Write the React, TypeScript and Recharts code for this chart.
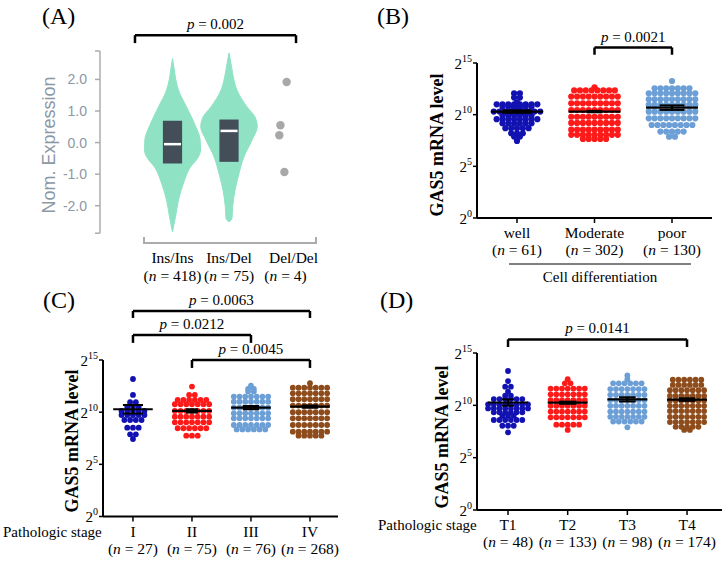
import React from 'react';
import {
  ComposedChart,
  ScatterChart,
  Scatter,
  Area,
  XAxis,
  YAxis,
  ReferenceLine,
  ReferenceArea,
  ReferenceDot,
} from 'recharts';

const SERIF = '"Liberation Serif", "Times New Roman", serif';
const SANS = '"Liberation Sans", Arial, sans-serif';
const W = 723;
const H = 561;

const GROUP_COLORS = ['#1212b2', '#ff1a1a', '#6c9fd6', '#8e4c1c'];
const AXIS_GREY = '#acacac';

// ---------- (A) violin plot, Nom. Expression ----------
const A_CATS = ['Ins/Ins', 'Ins/Del', 'Del/Del'];
const A_N = [418, 75, 4];
// [expression, half width of the violin in category units]
const A_VIOLIN_INS_INS: [number, number][] = [
  [-2.83, 0], [-2.35, 0.053], [-1.82, 0.106], [-1.28, 0.195], [-0.77, 0.319], [-0.5, 0.442],
  [-0.24, 0.496], [0.08, 0.49], [0.6, 0.389], [1.13, 0.248], [1.66, 0.106], [2.0, 0.057],
  [2.3, 0.032], [2.66, 0],
];
const A_VIOLIN_INS_DEL: [number, number][] = [
  [-2.51, 0], [-2.4, 0.053], [-2.03, 0.065], [-1.51, 0.106], [-0.98, 0.177], [-0.45, 0.265],
  [0.08, 0.407], [0.5, 0.5], [0.81, 0.46], [1.13, 0.319], [1.66, 0.142], [2.19, 0.065],
  [2.5, 0.035], [2.84, 0],
];
const A_Q1 = [-0.66, -0.61];
const A_Q3 = [0.69, 0.73];
const A_MEDIAN = [-0.05, 0.37];
const A_DELDEL_X = [2.02, 1.91, 1.89, 1.98];
const A_DELDEL_Y = [1.92, 0.55, 0.23, -0.93];

// ---------- (B) cell differentiation ----------
const B_CATS = ['well', 'Moderate', 'poor'];
const B_N = [61, 302, 130];
// rows of the dot swarm: [log2 level, number of dots]
const B_ROWS: [number, number][][] = [
  [[12.07, 2], [11.65, 2], [11.2, 1], [11.0, 8], [10.78, 6], [10.55, 2], [10.3, 9], [9.95, 6],
    [9.56, 8], [9.17, 6], [8.69, 5], [8.2, 3], [7.88, 2], [7.46, 1]],
  [[12.65, 1], [12.35, 8], [11.75, 9], [11.1, 9], [10.45, 9], [9.8, 9], [9.2, 9], [8.55, 9],
    [8.05, 9], [7.65, 5]],
  [[13.26, 1], [12.55, 7], [12.07, 9], [11.49, 9], [10.94, 9], [10.29, 9], [9.65, 9], [9.0, 8],
    [8.36, 5], [7.87, 2]],
];
const B_MEAN = [10.3, 10.3, 10.68];
const B_SEM = [0.12, 0.07, 0.22];
const B_CAP = [0.19, 0.1, 0.16];

// ---------- (C) pathologic stage ----------
const C_CATS = ['I', 'II', 'III', 'IV'];
const C_N = [27, 75, 76, 268];
const C_ROWS: [number, number][][] = [
  [[13.18, 1], [11.65, 1], [10.95, 2], [10.53, 3], [10.12, 5], [9.73, 5], [9.25, 4], [8.51, 3],
    [7.88, 2], [7.43, 1]],
  [[12.45, 1], [11.65, 2], [11.17, 6], [10.76, 7], [10.12, 7], [9.57, 7], [9.03, 7], [8.46, 6],
    [7.75, 3]],
  [[12.54, 1], [12.22, 2], [11.97, 2], [11.49, 7], [11.01, 7], [10.43, 7], [9.89, 7], [9.41, 7],
    [8.77, 7], [8.35, 6]],
  [[12.77, 1], [12.35, 7], [11.81, 7], [11.24, 7], [10.63, 7], [9.99, 7], [9.41, 7], [8.77, 7],
    [8.13, 7], [7.75, 5]],
];
const C_MEAN = [10.28, 10.12, 10.43, 10.53];
const C_SEM = [0.4, 0.15, 0.15, 0.1];
const C_CAP = [0.17, 0.1, 0.14, 0.14];

// ---------- (D) T stage ----------
const D_CATS = ['T1', 'T2', 'T3', 'T4'];
const D_N = [48, 133, 98, 174];
const D_ROWS: [number, number][][] = [
  [[13.28, 1], [12.32, 1], [11.78, 2], [11.3, 1], [10.92, 2], [10.6, 6], [10.1, 8], [9.7, 8],
    [9.33, 6], [9.0, 3], [8.6, 6], [8.05, 3], [7.42, 1]],
  [[12.5, 1], [12.1, 2], [11.6, 7], [11.05, 7], [10.5, 7], [9.95, 7], [9.4, 7], [8.85, 7],
    [8.15, 5], [7.65, 1]],
  [[12.85, 1], [12.5, 1], [12.1, 6], [11.55, 7], [11.0, 7], [10.5, 7], [9.95, 7], [9.4, 7],
    [8.9, 7], [8.45, 6], [7.9, 1]],
  [[12.45, 6], [11.95, 6], [11.45, 7], [10.9, 7], [10.45, 7], [9.95, 7], [9.45, 7], [8.9, 7],
    [8.4, 7], [7.95, 5], [7.65, 2]],
];
const D_MEAN = [10.27, 10.25, 10.57, 10.55];
const D_SEM = [0.3, 0.1, 0.2, 0.12];
const D_CAP = [0.1, 0.15, 0.14, 0.14];

type Bracket = { from: number; to: number; level: number; drop: number; p: string };

const A_BRACKETS: Bracket[] = [{ from: -0.664, to: 2.186, level: 3.4, drop: 0.25, p: '0.002' }];
const B_BRACKETS: Bracket[] = [{ from: 1, to: 2, level: 16.5, drop: 0.7, p: '0.0021' }];
const C_BRACKETS: Bracket[] = [
  { from: 0, to: 3, level: 19.7, drop: 0.67, p: '0.0063' },
  { from: 0, to: 2, level: 17.4, drop: 0.76, p: '0.0212' },
  { from: 1, to: 3, level: 15.0, drop: 0.76, p: '0.0045' },
];
const D_BRACKETS: Bracket[] = [{ from: 0, to: 3, level: 16.3, drop: 0.73, p: '0.0141' }];

// lay a row of dots side by side around the category centre
const swarm = (rows: [number, number][], cat: number, step: number) =>
  rows.flatMap(([v, k]) =>
    Array.from({ length: k }, (_, j) => ({ x: cat + (j - (k - 1) / 2) * step, y: v })),
  );

const pLabel = (text: string) => (props: any) => {
  const vb = props.viewBox || {};
  return (
    <text
      x={vb.x + vb.width / 2}
      y={vb.y - 6}
      textAnchor="middle"
      fontFamily={SERIF}
      fontSize={15}
      fill="#000"
    >
      <tspan fontStyle="italic">p</tspan>
      {' = ' + text}
    </text>
  );
};

const renderBrackets = (list: Bracket[]) =>
  list.flatMap((b, i) => [
    <ReferenceLine
      key={`bh${i}`}
      segment={[{ x: b.from, y: b.level }, { x: b.to, y: b.level }]}
      stroke="#000"
      strokeWidth={2.5}
      ifOverflow="visible"
      label={pLabel(b.p)}
    />,
    <ReferenceLine
      key={`bl${i}`}
      segment={[{ x: b.from, y: b.level }, { x: b.from, y: b.level - b.drop }]}
      stroke="#000"
      strokeWidth={2.5}
      ifOverflow="visible"
    />,
    <ReferenceLine
      key={`br${i}`}
      segment={[{ x: b.to, y: b.level }, { x: b.to, y: b.level - b.drop }]}
      stroke="#000"
      strokeWidth={2.5}
      ifOverflow="visible"
    />,
  ]);

const PowTick = (props: any) => {
  const { x, y, payload } = props;
  return (
    <text x={x} y={y + 5.5} textAnchor="end" fontFamily={SERIF} fontSize={15} fill="#000">
      2<tspan dy={-7} fontSize={10}>{payload.value}</tspan>
    </text>
  );
};

const catTick = (cats: string[], ns: number[], dy1: number, dy2: number, nudge: number[] = []) =>
  (props: any) => {
    const { x, y, payload } = props;
    const i = Math.round(payload.value);
    return (
      <g>
        <text x={x + (nudge[i] || 0)} y={y + dy1} textAnchor="middle" fontFamily={SERIF} fontSize={15.5} fill="#000">
          {cats[i]}
        </text>
        <text x={x} y={y + dy2} textAnchor="middle" fontFamily={SERIF} fontSize={15.5} fill="#000">
          (<tspan fontStyle="italic">n</tspan>
          {' = ' + ns[i] + ')'}
        </text>
      </g>
    );
  };

function PanelA() {
  const insIns = A_VIOLIN_INS_INS.map(([y, hw]) => ({ y, band: [0 - hw, 0 + hw] }));
  const insDel = A_VIOLIN_INS_DEL.map(([y, hw]) => ({ y, band: [1 - hw, 1 + hw] }));
  const xMin = -1.283;
  const xMax = 2.557;
  const yMin = -3.3;
  const yAxisLo = -2.87; // the y axis stops short of the detached x axis
  const yMax = 2.9;
  const plotBottom = 51 + (yMax - yMin) * 31.58;
  return (
    <ComposedChart
      layout="vertical"
      width={W}
      height={H}
      margin={{ top: 51, right: W - 317, bottom: H - plotBottom - 40, left: 100 - 60 }}
    >
      <XAxis
        type="number"
        dataKey="x"
        domain={[xMin, xMax]}
        allowDataOverflow
        ticks={[0, 1, 2]}
        interval={0}
        axisLine={false}
        tickLine={false}
        tickSize={0}
        tickMargin={0}
        height={40}
        tick={catTick(A_CATS, A_N, 263 - plotBottom, 280.5 - plotBottom, [0, 0, 8])}
      />
      <YAxis
        type="number"
        dataKey="y"
        reversed
        domain={[yMin, yMax]}
        allowDataOverflow
        ticks={[yAxisLo, -2, -1, 0, 1, 2, yMax]}
        interval={0}
        width={60}
        tickSize={5}
        tickMargin={8}
        tickFormatter={(v: number) => (Math.abs(v) > 2.5 ? '' : v.toFixed(1))}
        tick={{ fill: '#8b98a5', fontSize: 14, fontFamily: SANS }}
        axisLine={false}
        tickLine={{ stroke: AXIS_GREY, strokeWidth: 1.5 }}
      />
      <Area
        data={insIns}
        dataKey="band"
        type="monotone"
        fill="#8fe3c4"
        fillOpacity={1}
        stroke="#8fe3c4"
        strokeWidth={1}
        dot={false}
        activeDot={false}
        isAnimationActive={false}
      />
      <Area
        data={insDel}
        dataKey="band"
        type="monotone"
        fill="#8fe3c4"
        fillOpacity={1}
        stroke="#8fe3c4"
        strokeWidth={1}
        dot={false}
        activeDot={false}
        isAnimationActive={false}
      />
      {A_Q1.map((q1, i) => (
        <ReferenceArea
          key={`box${i}`}
          x1={i - 0.17}
          x2={i + 0.17}
          y1={q1}
          y2={A_Q3[i]}
          fill="#434e59"
          fillOpacity={1}
          stroke="none"
          ifOverflow="visible"
        />
      ))}
      {A_MEDIAN.map((m, i) => (
        <ReferenceLine
          key={`med${i}`}
          segment={[{ x: i - 0.15, y: m }, { x: i + 0.15, y: m }]}
          stroke="#ffffff"
          strokeWidth={2.5}
          ifOverflow="visible"
        />
      ))}
      {A_DELDEL_Y.map((v, i) => (
        <ReferenceDot key={`dd${i}`} x={A_DELDEL_X[i]} y={v} r={4.2} fill="#a8a8a8" stroke="none" ifOverflow="visible" />
      ))}
      <ReferenceLine
        key="yaxis"
        segment={[{ x: xMin, y: yAxisLo }, { x: xMin, y: yMax }]}
        stroke={AXIS_GREY}
        strokeWidth={1.5}
        ifOverflow="visible"
      />
      {renderBrackets(A_BRACKETS)}
    </ComposedChart>
  );
}

type SwarmProps = {
  cats: string[];
  ns: number[];
  rows: [number, number][][];
  means: number[];
  sems: number[];
  caps: number[];
  brackets: Bracket[];
  plot: { left: number; right: number; top: number; bottom: number };
  xDomain: [number, number];
  step: number;
  r: number;
  dy: [number, number];
};

function SwarmPanel({ cats, ns, rows, means, sems, caps, brackets, plot, xDomain, step, r, dy }: SwarmProps) {
  const yAxisW = 40;
  const xAxisH = 50;
  // pixel size of one unit on each axis, for the mean / SEM glyph
  const pxX = (plot.right - plot.left) / (xDomain[1] - xDomain[0]);
  const pxY = (plot.bottom - plot.top) / 15;
  const meanData = means.map((m, i) => ({ x: i, y: m, sem: sems[i], cap: caps[i] }));
  const MeanShape = (p: any) => {
    const hw = 0.335 * pxX;
    const s = p.payload.sem * pxY;
    const c = p.payload.cap * pxX;
    return (
      <g stroke="#000" fill="none">
        <line x1={p.cx - hw} x2={p.cx + hw} y1={p.cy} y2={p.cy} strokeWidth={2.2} />
        <line x1={p.cx} x2={p.cx} y1={p.cy - s} y2={p.cy + s} strokeWidth={2} />
        <line x1={p.cx - c} x2={p.cx + c} y1={p.cy - s} y2={p.cy - s} strokeWidth={2} />
        <line x1={p.cx - c} x2={p.cx + c} y1={p.cy + s} y2={p.cy + s} strokeWidth={2} />
      </g>
    );
  };
  return (
    <ScatterChart
      width={W}
      height={H}
      margin={{
        top: plot.top,
        right: W - plot.right,
        bottom: H - plot.bottom - xAxisH,
        left: plot.left - yAxisW,
      }}
    >
      <XAxis
        type="number"
        dataKey="x"
        domain={xDomain}
        allowDataOverflow
        ticks={cats.map((_, i) => i)}
        interval={0}
        height={xAxisH}
        tickSize={5}
        tickMargin={0}
        axisLine={{ stroke: '#000', strokeWidth: 2 }}
        tickLine={{ stroke: '#000', strokeWidth: 1.5 }}
        tick={catTick(cats, ns, dy[0], dy[1])}
      />
      <YAxis
        type="number"
        dataKey="y"
        domain={[0, 15]}
        allowDataOverflow
        ticks={[0, 5, 10, 15]}
        interval={0}
        width={yAxisW}
        tickSize={4}
        tickMargin={1}
        axisLine={{ stroke: '#000', strokeWidth: 2 }}
        tickLine={{ stroke: '#000', strokeWidth: 1.5 }}
        tick={<PowTick />}
      />
      {rows.map((rs, i) => (
        <Scatter
          key={`g${i}`}
          data={swarm(rs, i, step)}
          isAnimationActive={false}
          shape={(p: any) => <circle cx={p.cx} cy={p.cy} r={r} fill={GROUP_COLORS[i]} />}
        />
      ))}
      <Scatter data={meanData} isAnimationActive={false} shape={MeanShape} />
      {renderBrackets(brackets)}
    </ScatterChart>
  );
}

const layer: React.CSSProperties = { position: 'absolute', left: 0, top: 0 };

export default function App() {
  return (
    <div style={{ position: 'absolute', left: 0, top: 0, width: W, height: H, background: '#fff', overflow: 'hidden' }}>
      <div style={layer}>
        <PanelA />
      </div>
      <div style={layer}>
        <SwarmPanel
          cats={B_CATS}
          ns={B_N}
          rows={B_ROWS}
          means={B_MEAN}
          sems={B_SEM}
          caps={B_CAP}
          brackets={B_BRACKETS}
          plot={{ left: 477, right: 712, top: 63, bottom: 218 }}
          xDomain={[-0.516, 2.516]}
          step={0.075}
          r={3.1}
          dy={[14.5, 31.5]}
        />
      </div>
      <div style={layer}>
        <SwarmPanel
          cats={C_CATS}
          ns={C_N}
          rows={C_ROWS}
          means={C_MEAN}
          sems={C_SEM}
          caps={C_CAP}
          brackets={C_BRACKETS}
          plot={{ left: 103, right: 338, top: 360, bottom: 516.5 }}
          xDomain={[-0.508, 3.475]}
          step={0.097}
          r={2.9}
          dy={[15.5, 32.5]}
        />
      </div>
      <div style={layer}>
        <SwarmPanel
          cats={D_CATS}
          ns={D_N}
          rows={D_ROWS}
          means={D_MEAN}
          sems={D_SEM}
          caps={D_CAP}
          brackets={D_BRACKETS}
          plot={{ left: 477, right: 722, top: 353, bottom: 510 }}
          xDomain={[-0.52, 3.586]}
          step={0.0955}
          r={2.9}
          dy={[15, 32]}
        />
      </div>
      <svg style={{ ...layer, pointerEvents: 'none' }} width={W} height={H}>
        {/* detached x axis of the violin panel */}
        <line x1={143} y1={243} x2={317} y2={243} stroke={AXIS_GREY} strokeWidth={2} />
        <line x1={144} y1={237} x2={144} y2={244} stroke={AXIS_GREY} strokeWidth={2} />
        <line x1={316} y1={237} x2={316} y2={244} stroke={AXIS_GREY} strokeWidth={2} />
        <g fontFamily={SERIF} fill="#000">
          <text x={42} y={24} fontSize={24}>(A)</text>
          <text x={377} y={24} fontSize={24}>(B)</text>
          <text x={43} y={307.5} fontSize={24}>(C)</text>
          <text x={380} y={307.5} fontSize={24}>(D)</text>
          <text transform="translate(443,145) rotate(-90)" textAnchor="middle" fontSize={18} fontWeight="bold">
            GAS5 mRNA level
          </text>
          <text transform="translate(78,441) rotate(-90)" textAnchor="middle" fontSize={18} fontWeight="bold">
            GAS5 mRNA level
          </text>
          <text transform="translate(448,437) rotate(-90)" textAnchor="middle" fontSize={18} fontWeight="bold">
            GAS5 mRNA level
          </text>
          <line x1={509} y1={264} x2={691} y2={264} stroke="#000" strokeWidth={1} />
          <text x={600} y={282} textAnchor="middle" fontSize={15}>Cell differentiation</text>
          <text x={3} y={537} fontSize={15}>Pathologic stage</text>
          <text x={378} y={530} fontSize={15}>Pathologic stage</text>
        </g>
        <text
          transform="translate(55,145) rotate(-90)"
          textAnchor="middle"
          fontFamily={SANS}
          fontSize={18}
          fill="#8b98a5"
        >
          Nom. Expression
        </text>
      </svg>
    </div>
  );
}
